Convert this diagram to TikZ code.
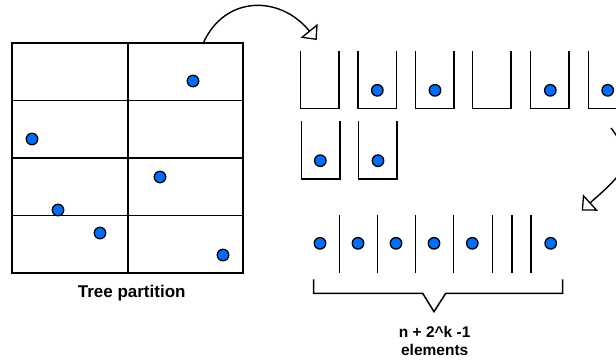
\documentclass[tikz,border=0pt]{standalone}
\usepackage{fontspec}
\setmainfont{Liberation Sans}
\usetikzlibrary{arrows.meta}
\definecolor{dotblue}{RGB}{0,110,250}
\begin{document}
\begin{tikzpicture}[x=1pt,y=-1pt,
  dot/.style={circle,draw=black,fill=dotblue,line width=1.3pt,minimum size=11.5pt,inner sep=0pt},
  gridline/.style={line width=1.7pt},
  bucketline/.style={line width=1.5pt},
  conn/.style={line width=1.4pt,-{Triangle[open,length=12pt,width=22pt,line width=1.3pt]}},
  biglbl/.style={font=\bfseries\fontsize{17}{20}\selectfont,inner sep=0pt,anchor=base},
  smalllbl/.style={font=\bfseries\fontsize{15.5}{18}\selectfont,inner sep=0pt,anchor=base}]
\useasboundingbox (0,0) rectangle (616,360);
\clip (0,0) rectangle (616,360);

% tree partition grid
\node[draw,gridline,minimum width=231pt,minimum height=230pt,inner sep=0pt] (grid) at (127.5,158) {};
\draw[gridline] (128,43) -- (128,273);
\draw[gridline] (12,100.5) -- (243,100.5);
\draw[gridline] (12,158) -- (243,158);
\draw[gridline] (12,215.5) -- (243,215.5);
\node[dot] (g1) at (193,81) {};
\node[dot] (g2) at (32,139) {};
\node[dot] (g3) at (160,177) {};
\node[dot] (g4) at (58,210) {};
\node[dot] (g5) at (100,233) {};
\node[dot] (g6) at (223,255) {};
\node[biglbl] (tlabel) at (131.7,297) {Tree partition};

% buckets row 1
\foreach \x in {300.5,358,415.5,472.5,530.5,588.5}
  \draw[bucketline] (\x,50.5) -- (\x,108.5) -- (\x+38.5,108.5) -- (\x+38.5,50.5);
% buckets row 2
\foreach \x in {301.5,358.5}
  \draw[bucketline] (\x,120.5) -- (\x,179) -- (\x+38.5,179) -- (\x+38.5,120.5);
\node[dot] (b2) at (377.3,90.3) {};
\node[dot] (b3) at (435,90.3) {};
\node[dot] (b5) at (550.3,90.3) {};
\node[dot] (b6) at (607.7,90.3) {};
\node[dot] (b7) at (320.3,160.7) {};
\node[dot] (b8) at (378,160.7) {};

% flat array
\foreach \x/\n in {320/1,358/2,396/3,434/4,472.3/5,550.7/6}
  \node[dot] (a\n) at (\x,243.3) {};
\foreach \x in {339.5,377.5,415.5,453.5,492.5,512,531}
  \draw[bucketline] (\x,215) -- (\x,273.3);

% brace
\draw[bucketline] (313.5,279.3) -- (313.5,293.3) -- (422.7,293.3) -- (434,311.7) -- (445.7,293.3) -- (562.5,293.3) -- (562.5,279.3);
\node[smalllbl] (n1) at (434.7,337) {n + 2\^{}k -1};
\node[smalllbl] (n2) at (434.7,355) {elements};

% connectors
\coordinate (c1s) at (203.3,43);
\coordinate (c1e) at (316.7,40);
\draw[conn] (c1s) .. controls (225,-5) and (280,-5) .. (c1e);
\coordinate (c2s) at (611,128);
\coordinate (c2e) at (581.7,210.7);
\draw[conn] (c2s) .. controls (640,165) and (615,180) .. (c2e);
\end{tikzpicture}
\end{document}
